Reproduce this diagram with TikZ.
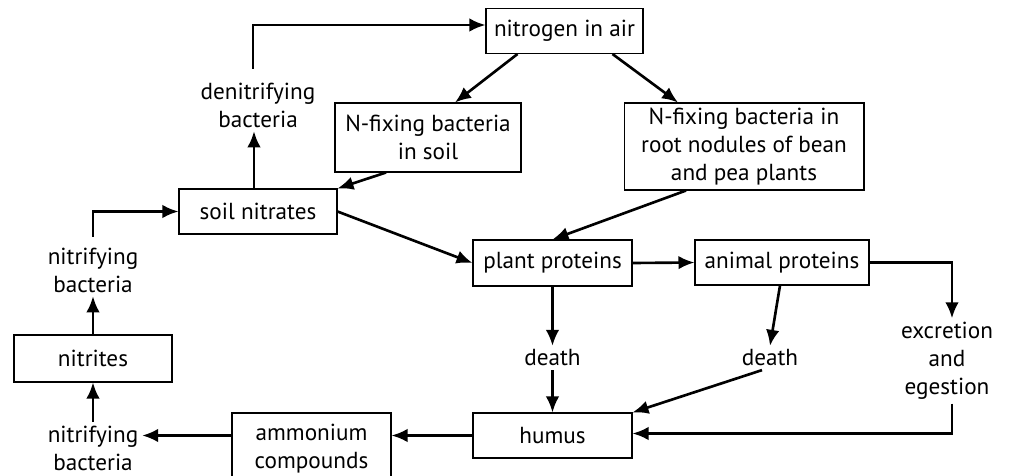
\documentclass[tikz,border=0pt]{standalone}
\usepackage{fontspec}
\setmainfont{PT Sans}
\usepackage{tikz}
\usetikzlibrary{arrows.meta, calc}

\tikzset{
  box/.style={draw, line width=0.6pt, align=center, inner sep=1pt},
  lbl/.style={align=center, inner sep=2pt},
  flow/.style={-{Latex[length=0.32cm, width=0.27cm]}, line width=1.5pt}
}

\begin{document}
\begin{tikzpicture}[x=0.02cm, y=-0.02cm, font=\fontsize{13.2}{16}\selectfont]
\useasboundingbox (0,0) rectangle (1011,476);

% boxes
\node[box, minimum width=3.14cm, minimum height=0.9cm] (air) at (564.5,31) {nitrogen in air};
\node[box, minimum width=3.72cm, minimum height=1.38cm] (nsoil) at (428,137.5) {N-fixing bacteria\\in soil};
\node[box, minimum width=4.8cm, minimum height=1.74cm] (nroot) at (744,146.5) {N-fixing bacteria in\\root nodules of bean\\and pea plants};
\node[box, minimum width=3.16cm, minimum height=0.9cm] (nitr) at (258,211.5) {soil nitrates};
\node[box, minimum width=3.18cm, minimum height=0.92cm] (plant) at (552.5,263) {plant proteins};
\node[box, minimum width=3.48cm, minimum height=0.9cm] (animal) at (782,262.5) {animal proteins};
\node[box, minimum width=3.16cm, minimum height=0.94cm] (nitrites) at (93,358.5) {nitrites};
\node[box, minimum width=3.18cm, minimum height=1.42cm] (ammon) at (311.5,448.5) {ammonium\\compounds};
\node[box, minimum width=3.18cm, minimum height=0.9cm] (humus) at (552.5,435.5) {humus};

% plain labels
\node[lbl] (denit) at (258,105) {denitrifying\\bacteria};
\node[lbl] (nitbu) at (93,270) {nitrifying\\bacteria};
\node[lbl] (nitbl) at (93,448.5) {nitrifying\\bacteria};
\node[lbl] (deathl) at (552.5,358) {death};
\node[lbl] (deathr) at (770,358) {death};
\node[lbl] (excr) at (947,361) {excretion\\and\\egestion};

% arrows
\draw[flow] ([xshift=-0.1cm, yshift=0.2cm]denit.north) |- ([yshift=0.12cm]air.west);
\draw[flow] ([xshift=-0.94cm]air.south) -- ([xshift=0.54cm]nsoil.north);
\draw[flow] ([xshift=0.96cm]air.south) -- ([xshift=-1.32cm]nroot.north);
\draw[flow] ([xshift=-0.84cm]nsoil.south) -- (nitr.north east);
\draw[flow] ([xshift=-0.08cm]nitr.north) -- ([xshift=-0.08cm]denit.south);
\draw[flow] ([yshift=0.14cm]nitbu.north) |- (nitr.west);
\draw[flow] (nitr.east) -- (plant.west);
\draw[flow] ([xshift=-1.16cm]nroot.south) -- (plant.north);
\draw[flow] (plant.east) -- (animal.west);
\draw[flow] (animal.east) -| ([xshift=0.1cm]excr.north);
\draw[flow] ([xshift=-0.04cm]animal.south) -- (deathr.north);
\draw[flow] (plant.south) -- (deathl.north);
\draw[flow] (deathl.south) -- (humus.north);
\draw[flow] ([xshift=-0.16cm]deathr.south) -- (humus.north east);
\draw[flow] ([xshift=0.1cm]excr.south) |- ([yshift=0.04cm]humus.east);
\draw[flow] (humus.west) -- (humus.west -| ammon.east);
\draw[flow] (ammon.west |- humus.west) -- (nitbl.east |- humus.west);
\draw[flow] (nitbl.north) -- (nitrites.south);
\draw[flow] (nitrites.north) -- (nitbu.south);
\end{tikzpicture}
\end{document}
